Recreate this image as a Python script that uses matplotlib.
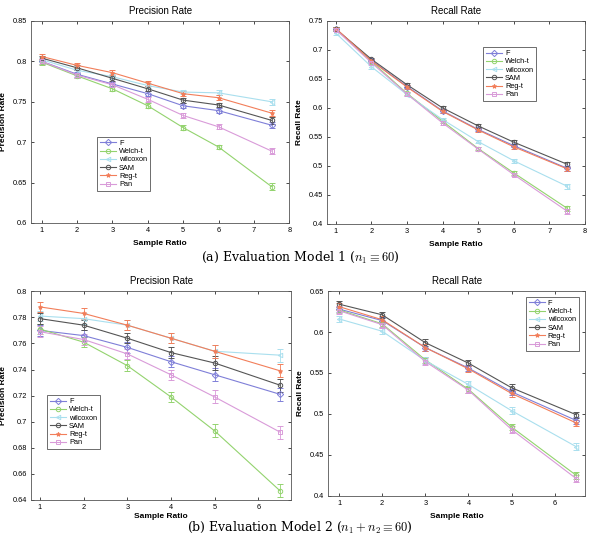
import matplotlib
matplotlib.use('Agg')
import matplotlib.pyplot as plt
from matplotlib.lines import Line2D
from matplotlib.ticker import FuncFormatter

plt.rcParams['font.family'] = ['Liberation Sans', 'DejaVu Sans']
plt.rcParams['mathtext.fontset'] = 'cm'

methods = ['F', 'Welch-t', 'wilcoxon', 'SAM', 'Reg-t', 'Pan']
colors = ['#7f7fd8', '#93d36e', '#a9dfee', '#555555', '#f27e5a', '#d99bd9']
markers = ['D', 'o', '<', 'o', '*', 's']

# Model 1 (n1 = 60)
ratio_m1 = [1, 2, 3, 4, 5, 6, 7.5]
prec_m1 = {
    'F':        [0.800, 0.784, 0.772, 0.760, 0.745, 0.739, 0.721],
    'Welch-t':  [0.799, 0.782, 0.766, 0.745, 0.718, 0.694, 0.645],
    'wilcoxon': [0.802, 0.789, 0.781, 0.770, 0.762, 0.761, 0.750],
    'SAM':      [0.804, 0.792, 0.779, 0.766, 0.752, 0.746, 0.727],
    'Reg-t':    [0.806, 0.795, 0.786, 0.773, 0.760, 0.755, 0.736],
    'Pan':      [0.800, 0.783, 0.771, 0.753, 0.733, 0.719, 0.689],
}
prec_m1_err = [0.003, 0.003, 0.003, 0.003, 0.003, 0.003, 0.004]
rec_m1 = {
    'F':        [0.736, 0.682, 0.637, 0.595, 0.563, 0.535, 0.496],
    'Welch-t':  [0.736, 0.680, 0.625, 0.577, 0.530, 0.488, 0.427],
    'wilcoxon': [0.729, 0.671, 0.623, 0.580, 0.542, 0.509, 0.465],
    'SAM':      [0.736, 0.684, 0.640, 0.600, 0.569, 0.541, 0.503],
    'Reg-t':    [0.737, 0.681, 0.636, 0.594, 0.562, 0.533, 0.495],
    'Pan':      [0.735, 0.678, 0.624, 0.574, 0.529, 0.485, 0.422],
}
rec_m1_err = [0.003, 0.003, 0.003, 0.003, 0.003, 0.003, 0.004]

# Model 2 (n1 + n2 = 60)
ratio_m2 = [1, 2, 3, 4, 5, 6.5]
prec_m2 = {
    'F':        [0.770, 0.766, 0.757, 0.746, 0.736, 0.721],
    'Welch-t':  [0.771, 0.761, 0.743, 0.719, 0.693, 0.647],
    'wilcoxon': [0.781, 0.779, 0.774, 0.764, 0.754, 0.751],
    'SAM':      [0.779, 0.774, 0.764, 0.753, 0.745, 0.728],
    'Reg-t':    [0.788, 0.783, 0.774, 0.764, 0.754, 0.739],
    'Pan':      [0.769, 0.763, 0.752, 0.736, 0.719, 0.692],
}
prec_m2_err = [0.004, 0.004, 0.004, 0.004, 0.005, 0.005]
rec_m2 = {
    'F':        [0.628, 0.614, 0.581, 0.556, 0.527, 0.492],
    'Welch-t':  [0.627, 0.610, 0.566, 0.530, 0.484, 0.425],
    'wilcoxon': [0.616, 0.601, 0.565, 0.536, 0.504, 0.460],
    'SAM':      [0.634, 0.621, 0.587, 0.562, 0.532, 0.499],
    'Reg-t':    [0.631, 0.615, 0.581, 0.555, 0.525, 0.489],
    'Pan':      [0.626, 0.609, 0.564, 0.529, 0.481, 0.421],
}
rec_m2_err = [0.004, 0.004, 0.004, 0.004, 0.004, 0.004]


def draw_panel(ax, x, data, err, title, ylabel, xlim, ylim, yticks, xticks, legend_kw, xlabelpad=4):
    handles = []
    for m, c, mk in zip(methods, colors, markers):
        face = c if mk == '*' else 'none'
        ax.errorbar(x, data[m], yerr=err, color=c, marker=mk, markersize=3.2,
                    markerfacecolor=face, markeredgewidth=0.7,
                    linewidth=0.8, elinewidth=0.6, capsize=2, capthick=0.6)
        handles.append(Line2D([], [], color=c, marker=mk, markersize=3.2,
                              markerfacecolor=face, markeredgewidth=0.7, linewidth=0.8, label=m))
    ax.set_xlim(*xlim)
    ax.set_ylim(*ylim)
    ax.set_yticks(yticks)
    ax.set_xticks(xticks)
    ax.yaxis.set_major_formatter(FuncFormatter(lambda v, p: f'{v:g}'))
    ax.tick_params(direction='in', top=True, right=True, labelsize=5.3, length=2.5, width=0.5, pad=3)
    for s in ax.spines.values():
        s.set_linewidth(0.6)
        s.set_color('#555555')
    ax.set_title(title, fontsize=7, pad=5)
    ax.set_xlabel('Sample Ratio', fontsize=6, fontweight='bold', labelpad=xlabelpad)
    ax.set_ylabel(ylabel, fontsize=6, fontweight='bold')
    leg = ax.legend(handles=handles, fontsize=5.3, handlelength=2.2, handletextpad=0.4,
                    borderpad=0.4, labelspacing=0.15, fancybox=False, framealpha=1, **legend_kw)
    leg.get_frame().set_edgecolor('#555555')
    leg.get_frame().set_linewidth(0.6)


fig = plt.figure(figsize=(6, 5.45), dpi=100)

ax1 = fig.add_axes([0.052, 0.591, 0.430, 0.3705])
draw_panel(ax1, ratio_m1, prec_m1, prec_m1_err, 'Precision Rate', 'Precision Rate',
           (0.7, 8), (0.6, 0.85), [0.6, 0.65, 0.7, 0.75, 0.8, 0.85], range(1, 9),
           dict(loc='lower left', bbox_to_anchor=(0.24, 0.139)))

ax2 = fig.add_axes([0.545, 0.589, 0.430, 0.3725])
draw_panel(ax2, ratio_m1, rec_m1, rec_m1_err, 'Recall Rate', 'Recall Rate',
           (0.75, 8), (0.4, 0.75), [0.4, 0.45, 0.5, 0.55, 0.6, 0.65, 0.7, 0.75], range(1, 9),
           dict(loc='upper left', bbox_to_anchor=(0.59, 0.89)))

ax3 = fig.add_axes([0.052, 0.0826, 0.433, 0.383])
draw_panel(ax3, ratio_m2, prec_m2, prec_m2_err, 'Precision Rate', 'Precision Rate',
           (0.8, 6.75), (0.64, 0.8), [0.64, 0.66, 0.68, 0.7, 0.72, 0.74, 0.76, 0.78, 0.8],
           range(1, 7), dict(loc='lower left', bbox_to_anchor=(0.046, 0.225)), xlabelpad=1)

ax4 = fig.add_axes([0.547, 0.090, 0.428, 0.376])
draw_panel(ax4, ratio_m2, rec_m2, rec_m2_err, 'Recall Rate', 'Recall Rate',
           (0.75, 6.7), (0.4, 0.65), [0.4, 0.45, 0.5, 0.55, 0.6, 0.65], range(1, 7),
           dict(loc='upper right', bbox_to_anchor=(0.99, 0.99)))

fig.text(0.5, 1 - 257 / 545, r'(a) Evaluation Model 1 ($n_1 \equiv 60$)', ha='center', va='center',
         fontsize=9, family='DejaVu Serif')
fig.text(0.5, 1 - 527 / 545, r'(b) Evaluation Model 2 ($n_1 + n_2 \equiv 60$)', ha='center',
         va='center', fontsize=9, family='DejaVu Serif')

fig.savefig('out.png', dpi=100)
